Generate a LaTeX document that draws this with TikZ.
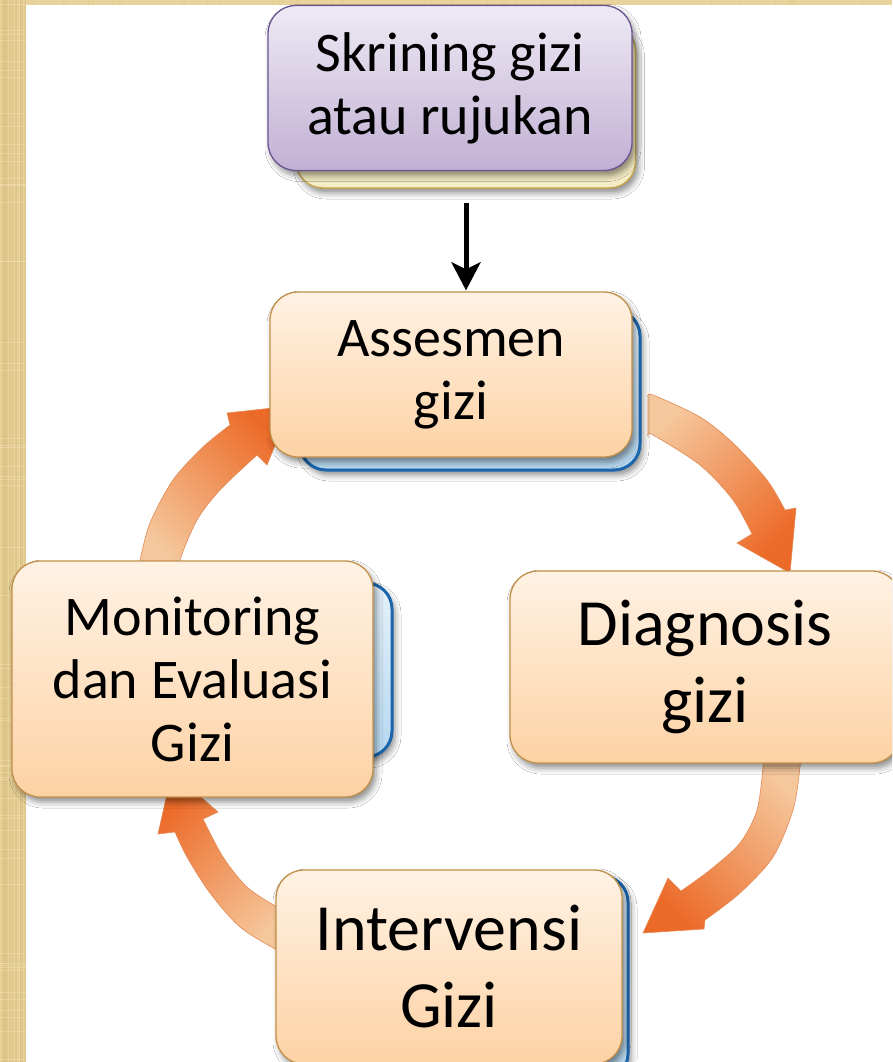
\documentclass[tikz,border=0pt]{standalone}
\usepackage{fontspec}
\setmainfont{Carlito}
\usetikzlibrary{shadows.blur,arrows.meta}
\definecolor{parch}{HTML}{E9D39C}
\definecolor{parchdk}{HTML}{D9BE80}
\definecolor{parchlt}{HTML}{F3E2B4}
\definecolor{peachtop}{HTML}{FFF2E4}
\definecolor{peachbot}{HTML}{FDD2A4}
\definecolor{peachline}{HTML}{C3904A}
\definecolor{purptop}{HTML}{EEEAF4}
\definecolor{purpbot}{HTML}{C1B0D4}
\definecolor{purpline}{HTML}{6B5392}
\definecolor{creamfill}{HTML}{F4ECC4}
\definecolor{creamline}{HTML}{C3A552}
\definecolor{bluetop}{HTML}{E4F1FA}
\definecolor{bluebot}{HTML}{B6D8F1}
\definecolor{blueline}{HTML}{1B65AC}
\definecolor{arrlight}{HTML}{F5C79C}
\definecolor{arrdark}{HTML}{EC6A28}
\definecolor{arrline}{HTML}{E38A55}
\tikzset{
  boxshadow/.style={blur shadow={shadow xshift=3pt,shadow yshift=-5pt,shadow blur radius=6pt,shadow opacity=45}},
  frontbox/.style={rectangle,draw=peachline,line width=1.3pt,rounded corners=28pt,
    top color=peachtop,bottom color=peachbot,align=center,inner sep=0pt,boxshadow},
  purplebox/.style={rectangle,draw=purpline,line width=1.3pt,rounded corners=28pt,
    top color=purptop,bottom color=purpbot,align=center,inner sep=0pt,boxshadow},
  creamlayer/.style={rectangle,draw=creamline,line width=1.5pt,rounded corners=26pt,
    fill=creamfill,inner sep=0pt,boxshadow},
  bluelayer/.style={rectangle,draw=blueline,line width=3pt,rounded corners=26pt,
    top color=bluetop,bottom color=bluebot,inner sep=0pt,boxshadow},
  smalltxt/.style={font=\fontsize{56}{63}\selectfont},
  bigtxt/.style={font=\fontsize{66}{77}\selectfont},
  cyclearrow/.style={draw=arrline,line width=0.6pt,top color=arrlight,bottom color=arrdark},
}
\begin{document}
\begin{tikzpicture}[x=1pt,y=-1pt]
\useasboundingbox (0,0) rectangle (892,1062);
\clip (0,0) rectangle (892,1062);
% background
\fill[parch] (0,0) rectangle (892,1062);
\pgfmathsetseed{7}
\foreach \i in {1,...,40}{
  \pgfmathsetmacro{\xx}{rnd*26}
  \draw[parchdk,opacity=0.35,line width=0.8pt] (\xx,0) -- (\xx,1062);
}
\foreach \i in {1,...,60}{
  \pgfmathsetmacro{\yy}{rnd*1062}
  \draw[parchlt,opacity=0.5,line width=1pt] (0,\yy) -- (26,\yy);
}
\foreach \i in {1,...,50}{
  \pgfmathsetmacro{\xx}{rnd*892}
  \draw[parchdk,opacity=0.35,line width=1pt] (\xx,0) -- (\xx,5);
}
\fill[white] (26,5) rectangle (892,1062);

% cycle arrows
\path[cyclearrow,shading angle=45]
  plot[smooth] coordinates {(648,397) (653,395) (700,417) (733,443) (767,480) (785,510)}
  -- (796,508) -- (790,573) -- (737,543) -- (752,534)
  -- plot[smooth] coordinates {(752,534) (733,500) (700,465) (653,435) (648,436)} -- cycle;
\path[cyclearrow,shading angle=-45]
  plot[smooth] coordinates {(800,752) (800,767) (793,810) (773,857) (740,893) (705,920)}
  -- (704,929) -- (643,933) -- (668,878) -- (681,891)
  -- plot[smooth] coordinates {(681,891) (710,870) (740,843) (757,810) (763,767) (763,752)} -- cycle;
\path[cyclearrow,shading angle=225]
  plot[smooth] coordinates {(290,955) (277,950) (240,927) (210,893) (187,857) (175,832)}
  -- (158,834) -- (172,772) -- (218,812) -- (203,819)
  -- plot[smooth] coordinates {(203,819) (223,857) (247,887) (277,907) (290,911)} -- cycle;
\path[cyclearrow,shading angle=135]
  plot[smooth] coordinates {(138,572) (140,560) (150,523) (173,480) (203,447) (230,425)}
  -- (227,413) -- (291,406) -- (267,465) -- (257,455)
  -- plot[smooth] coordinates {(257,455) (220,490) (197,520) (180,560) (182,572)} -- cycle;

% back layers
\node[creamlayer,minimum width=339pt,minimum height=163pt] (skrback) at (466,106.5) {};
\node[bluelayer,minimum width=340pt,minimum height=160pt] (assback) at (470,390) {};
\node[bluelayer,minimum width=352pt,minimum height=174pt] (monback) at (216,670) {};
\node[bluelayer,minimum width=328pt,minimum height=204pt] (intback) at (464,978) {};

% front boxes
\node[purplebox,smalltxt,minimum width=364pt,minimum height=165pt] (skr) at (450,88) {Skrining gizi\\atau rujukan};
\node[frontbox,smalltxt,minimum width=362pt,minimum height=165pt] (ass) at (451,374.5) {Assesmen\\gizi};
\node[frontbox,bigtxt,minimum width=390pt,minimum height=192pt] (dia) at (705,667) {Diagnosis\\gizi};
\node[frontbox,bigtxt,minimum width=346pt,minimum height=194pt] (int) at (449,967) {Intervensi\\Gizi};
\node[frontbox,smalltxt,minimum width=361pt,minimum height=236pt] (mon) at (192.5,679) {Monitoring\\dan Evaluasi\\Gizi};

% black arrow
\draw[line width=5pt,-{Stealth[length=28pt,width=29pt,inset=7pt]},shorten <=14pt,shorten >=1pt]
  (skrback.south) -- (skrback.south |- ass.north);
\end{tikzpicture}
\end{document}
